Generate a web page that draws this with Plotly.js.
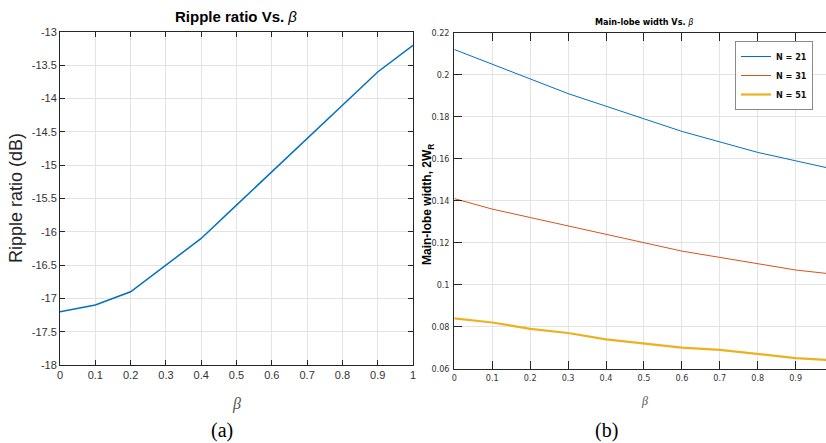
<!DOCTYPE html>
<html>
<head>
<meta charset="utf-8">
<script src="https://cdn.plot.ly/plotly-3.0.1.min.js"></script>
<style>html,body{margin:0;padding:0;background:#fff}#chart{width:826px;height:443px}</style>
</head>
<body>
<div id="chart"></div>
<script>
// (a) Ripple ratio vs beta
const betaA = [0, 0.1, 0.2, 0.3, 0.4, 0.5, 0.6, 0.7, 0.8, 0.9, 1.0];
const rippleDb = [-17.2, -17.1, -16.9, -16.5, -16.1, -15.6, -15.1, -14.6, -14.1, -13.6, -13.2];

// (b) Main-lobe width vs beta
const betaB = [0, 0.1, 0.2, 0.3, 0.4, 0.5, 0.6, 0.7, 0.8, 0.9, 1.0];
const widthN21 = [0.212, 0.205, 0.198, 0.191, 0.185, 0.179, 0.173, 0.168, 0.163, 0.159, 0.155];
const widthN31 = [0.141, 0.136, 0.132, 0.128, 0.124, 0.120, 0.116, 0.113, 0.110, 0.107, 0.105];
const widthN51 = [0.084, 0.082, 0.079, 0.077, 0.074, 0.072, 0.070, 0.069, 0.067, 0.065, 0.064];
const seriesNames = ['N = 21', 'N = 31', 'N = 51'];

const ticksA_x = [0, 0.1, 0.2, 0.3, 0.4, 0.5, 0.6, 0.7, 0.8, 0.9, 1];
const ticksA_y = [-18, -17.5, -17, -16.5, -16, -15.5, -15, -14.5, -14, -13.5, -13];
const ticksB_x = [0, 0.1, 0.2, 0.3, 0.4, 0.5, 0.6, 0.7, 0.8, 0.9];
const ticksB_y = [0.06, 0.08, 0.1, 0.12, 0.14, 0.16, 0.18, 0.2, 0.22];

const H = 443, W = 826;
const py = p => 1 - p / H;
const px = p => p / W;

const axisDark = '#262626';
const gridC = '#e3e3e3';
const narrow = '"DejaVu Sans Condensed", "Liberation Sans Narrow", "Arial Narrow", sans-serif';

const traces = [
  {x: betaA, y: rippleDb, type: 'scatter', mode: 'lines', xaxis: 'x', yaxis: 'y',
   line: {color: '#0072BD', width: 1.5}, showlegend: false},
  {x: betaB, y: widthN21, type: 'scatter', mode: 'lines', xaxis: 'x2', yaxis: 'y2', name: seriesNames[0],
   line: {color: '#0072BD', width: 1}},
  {x: betaB, y: widthN31, type: 'scatter', mode: 'lines', xaxis: 'x2', yaxis: 'y2', name: seriesNames[1],
   line: {color: '#D95319', width: 1}},
  {x: betaB, y: widthN51, type: 'scatter', mode: 'lines', xaxis: 'x2', yaxis: 'y2', name: seriesNames[2],
   line: {color: '#EDB120', width: 2.2}}
];

const baseAx = {
  showline: true, linecolor: axisDark, linewidth: 1,
  ticks: 'inside', tickcolor: axisDark, ticklen: 5,
  showgrid: true, gridcolor: gridC, gridwidth: 1, zeroline: false
};

const layout = {
  width: W, height: H,
  margin: {l: 0, r: 0, t: 0, b: 0},
  paper_bgcolor: '#ffffff', plot_bgcolor: '#ffffff',
  showlegend: true,
  legend: {
    x: px(813), y: py(41), xanchor: 'right', yanchor: 'top',
    bgcolor: '#ffffff', bordercolor: '#8a8a8a', borderwidth: 1,
    font: {family: narrow, size: 9, color: '#111', weight: 'bold'},
    itemwidth: 30, tracegroupgap: 0
  },
  xaxis: Object.assign({}, baseAx, {
    domain: [px(60), px(413)], range: [0, 1], anchor: 'y',
    tickvals: ticksA_x, ticktext: ticksA_x.map(String), mirror: 'ticks',
    tickfont: {family: 'Liberation Sans, Arial, sans-serif', size: 11, color: '#333'}
  }),
  yaxis: Object.assign({}, baseAx, {
    domain: [py(365), py(32)], range: [-18, -13], anchor: 'x',
    tickvals: ticksA_y, ticktext: ticksA_y.map(String), mirror: 'ticks',
    tickfont: {family: 'Liberation Sans, Arial, sans-serif', size: 11, color: '#333'}
  }),
  xaxis2: Object.assign({}, baseAx, {
    domain: [px(454.3), 1], range: [0, 0.98], anchor: 'y2',
    tickvals: ticksB_x, ticktext: ticksB_x.map(String), mirror: 'ticks', ticklen: 8,
    tickfont: {family: narrow, size: 9, color: '#333'}
  }),
  yaxis2: Object.assign({}, baseAx, {
    domain: [py(368.7), py(32.7)], range: [0.06, 0.22], anchor: 'x2',
    tickvals: ticksB_y, ticktext: ticksB_y.map(String), mirror: false, ticklen: 8,
    ticklabelstandoff: 2,
    tickfont: {family: narrow, size: 9, color: '#333'}
  }),
  annotations: [
    {text: '<b>Ripple ratio Vs. </b><i>β</i>', x: px(236), y: py(17), xref: 'paper', yref: 'paper',
     showarrow: false, xanchor: 'center', yanchor: 'middle',
     font: {family: 'Liberation Sans, Arial, sans-serif', size: 15, color: '#000'}},
    {text: 'Ripple ratio (dB)', x: px(16), y: py(198), xref: 'paper', yref: 'paper', textangle: -90,
     showarrow: false, xanchor: 'center', yanchor: 'middle',
     font: {family: 'Liberation Sans, Arial, sans-serif', size: 18, color: axisDark}},
    {text: '<i>β</i>', x: px(236), y: py(404), xref: 'paper', yref: 'paper',
     showarrow: false, xanchor: 'center', yanchor: 'middle',
     font: {family: 'Liberation Serif, serif', size: 16, color: '#555'}},
    {text: '<b>Main-lobe width Vs. </b><i>β</i>', x: px(644), y: py(22), xref: 'paper', yref: 'paper',
     showarrow: false, xanchor: 'center', yanchor: 'middle',
     font: {family: narrow, size: 9, color: '#000'}},
    {text: '<b>Main-lobe width, 2W<sub>R</sub></b>', x: px(428), y: py(205), xref: 'paper', yref: 'paper', textangle: -90,
     showarrow: false, xanchor: 'center', yanchor: 'middle',
     font: {family: 'Liberation Sans, Arial, sans-serif', size: 12, color: '#000'}},
    {text: '<i>β</i>', x: px(644), y: py(401), xref: 'paper', yref: 'paper',
     showarrow: false, xanchor: 'center', yanchor: 'middle',
     font: {family: 'Liberation Serif, serif', size: 12, color: '#555'}},
    {text: '(a)', x: px(222), y: py(430), xref: 'paper', yref: 'paper',
     showarrow: false, xanchor: 'center', yanchor: 'middle',
     font: {family: 'Liberation Serif, serif', size: 20, color: '#000'}},
    {text: '(b)', x: px(606), y: py(430), xref: 'paper', yref: 'paper',
     showarrow: false, xanchor: 'center', yanchor: 'middle',
     font: {family: 'Liberation Serif, serif', size: 20, color: '#000'}}
  ]
};

Plotly.newPlot('chart', traces, layout, {staticPlot: true, displayModeBar: false});
</script>
</body>
</html>
